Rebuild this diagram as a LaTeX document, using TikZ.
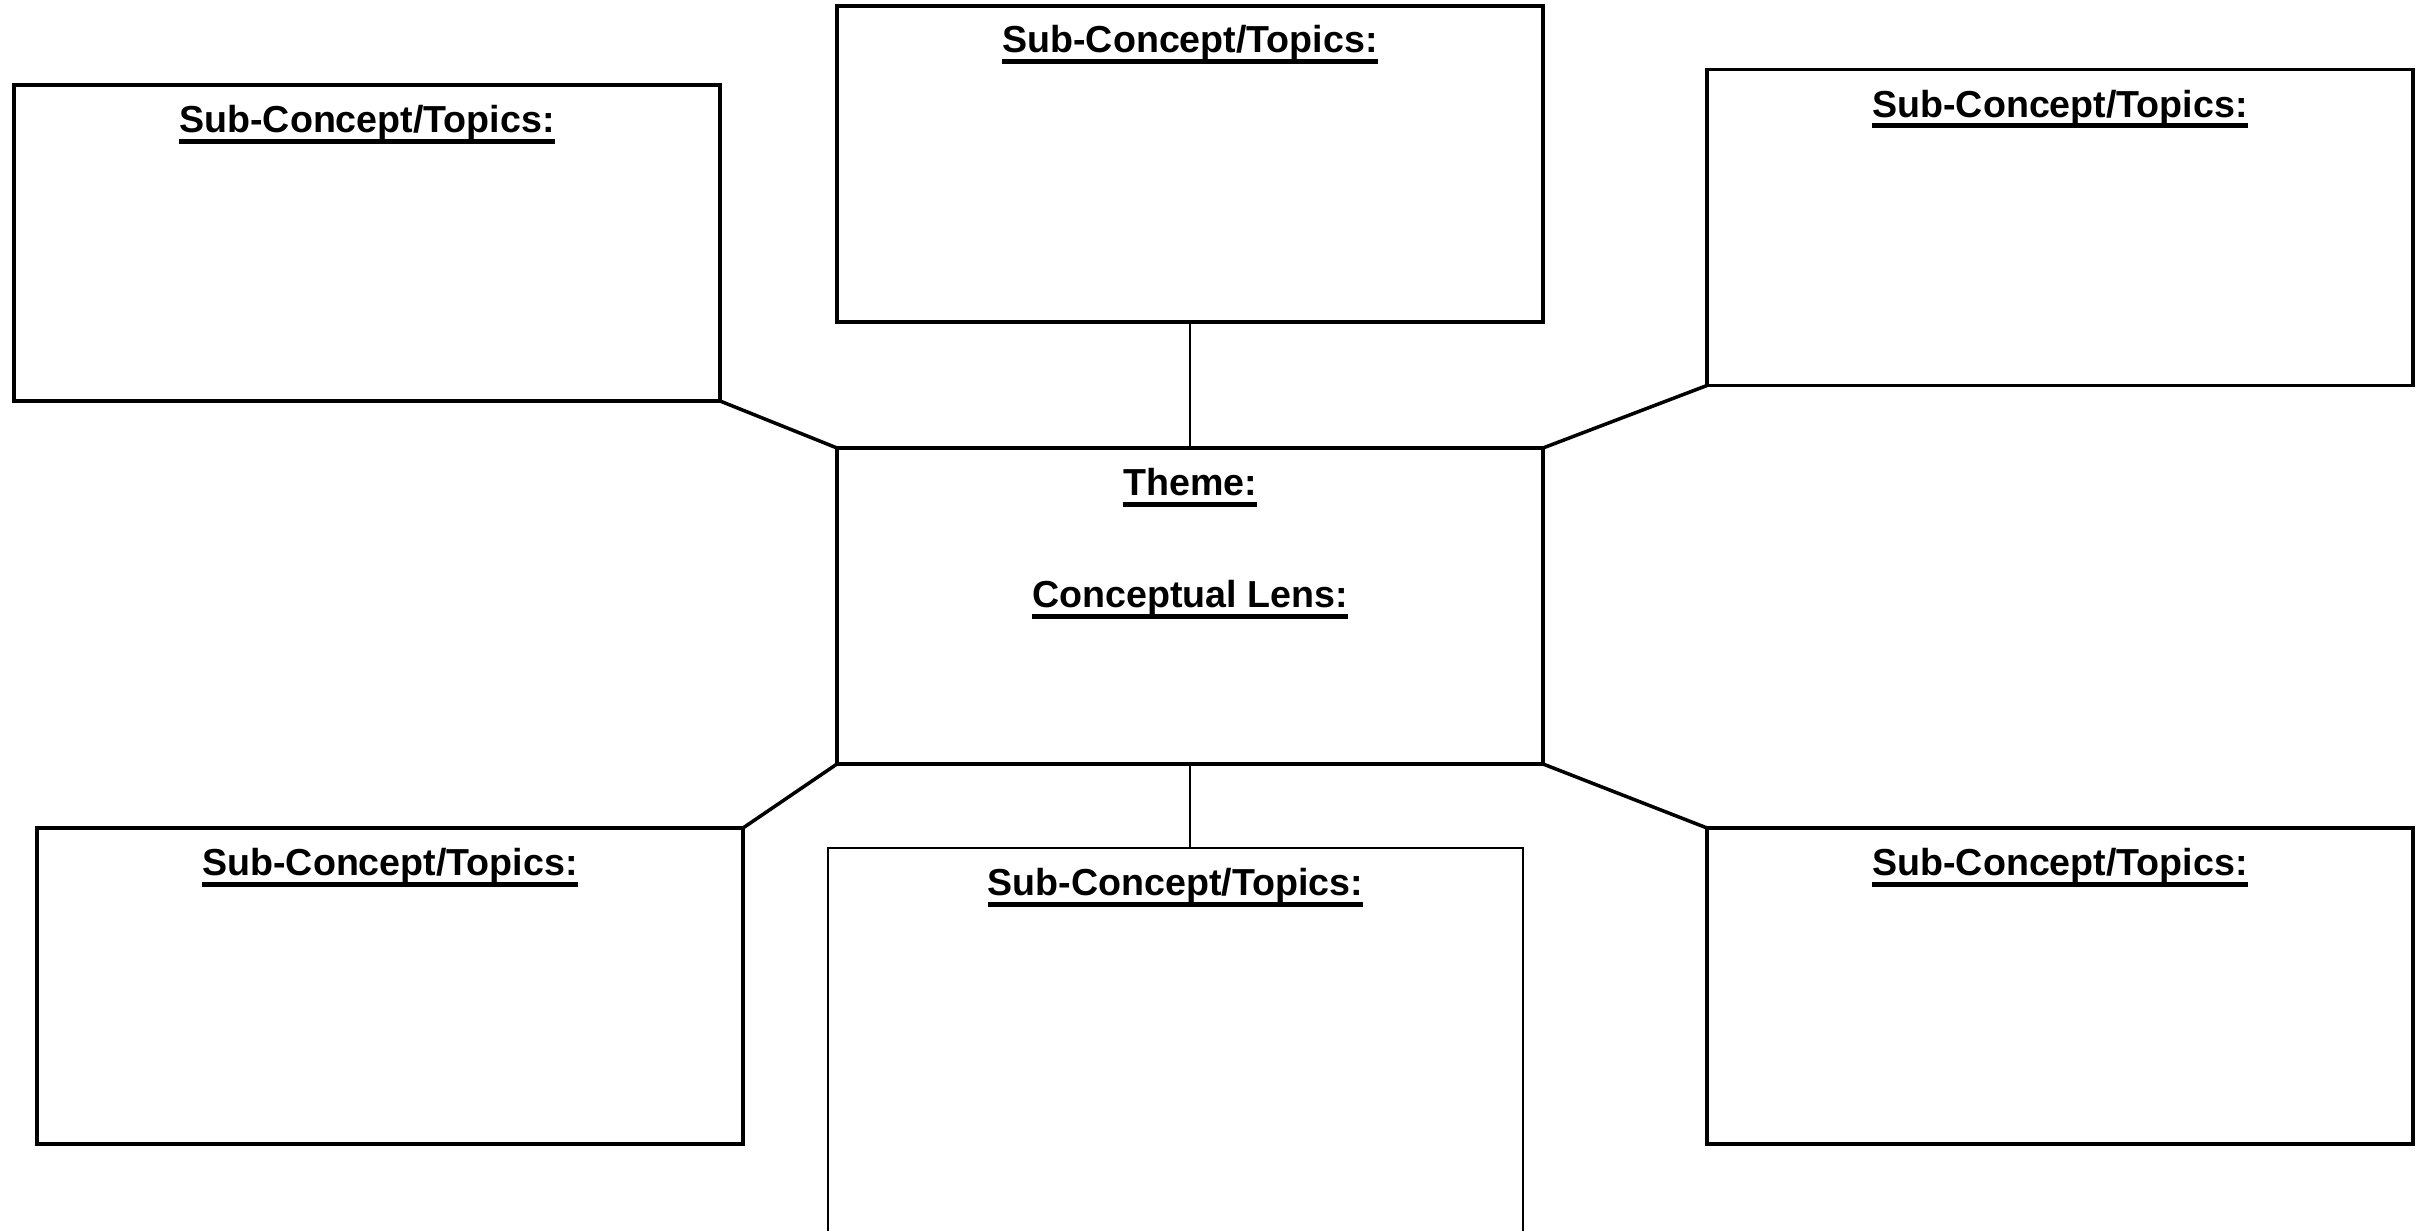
\documentclass[tikz,border=0pt]{standalone}
\usepackage{fontspec}
\setmainfont{Liberation Sans}
\usepackage{tikz}
\usetikzlibrary{positioning}

\newcommand{\ulhead}[1]{\setbox0=\hbox{#1}\rlap{\copy0}\vrule height -1.6pt depth 3.0pt width \wd0}

\begin{document}
\begin{tikzpicture}[
box/.style={draw,rectangle,line width=1pt,minimum width=7.06cm,minimum height=3.16cm,inner sep=0pt,outer sep=0pt},
thinbox/.style={box,line width=0.5pt,minimum width=6.95cm,minimum height=4.6cm},
title/.style={anchor=base,inner sep=0pt,font=\fontsize{10.7}{12.8}\selectfont\bfseries},
link/.style={line width=1pt},
thinlink/.style={line width=0.5pt} ]

\useasboundingbox (0,0) rectangle (24.27,-12.31);

\node[box] (tl) at (3.67,-2.43) {};

\node[box] (tc) at (11.90,-1.64) {};

\node[box] (tr) at (20.60,-2.275) {};

\node[box] (theme) at (11.90,-6.06) {};

\node[box] (bl) at (3.90,-9.86) {};

\node[thinbox] (bc) at (11.755,-10.78) {};

\node[box] (br) at (20.60,-9.86) {};

\node[title] (tlh) at ([yshift=-0.48cm]tl.north) {\ulhead{Sub-Concept/Topics:}};

\node[title] (tch) at ([yshift=-0.47cm]tc.north) {\ulhead{Sub-Concept/Topics:}};

\node[title] (trh) at ([yshift=-0.48cm]tr.north) {\ulhead{Sub-Concept/Topics:}};

\node[title] (themeh) at ([yshift=-0.48cm]theme.north) {\ulhead{Theme:}};

\node[title] (lensh) at ([yshift=-1.6cm]theme.north) {\ulhead{Conceptual Lens:}};

\node[title] (blh) at ([yshift=-0.48cm]bl.north) {\ulhead{Sub-Concept/Topics:}};

\node[title] (bch) at ([yshift=-0.48cm]bc.north) {\ulhead{Sub-Concept/Topics:}};

\node[title] (brh) at ([yshift=-0.48cm]br.north) {\ulhead{Sub-Concept/Topics:}};

\draw[link] (tl.south east) -- (theme.north west);

\draw[thinlink] (tc.south) -- (theme.north);

\draw[link] (tr.south west) -- (theme.north east);

\draw[link] (theme.south west) -- (bl.north east);

\draw[thinlink] (theme.south) -- (theme.south |- bc.north);

\draw[link] (theme.south east) -- (br.north west);


\end{tikzpicture}
\end{document}
